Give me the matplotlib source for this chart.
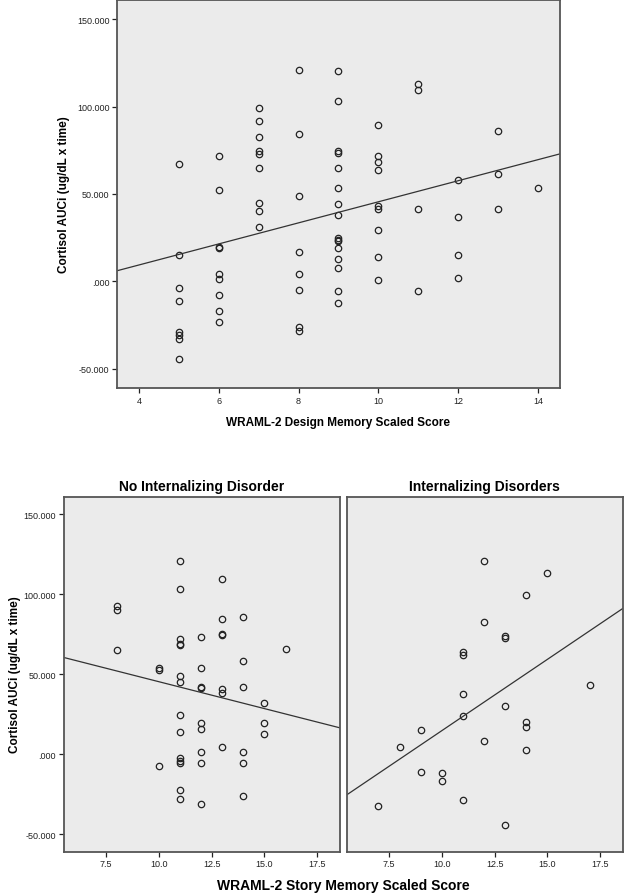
import matplotlib
matplotlib.use("Agg")
import matplotlib.pyplot as plt
import numpy as np

# top panel: design memory vs cortisol AUCi (all subjects)
design_x = [5, 5, 5, 5, 5, 5, 5, 5,
            6, 6, 6, 6, 6, 6, 6, 6, 6,
            7, 7, 7, 7, 7, 7, 7, 7, 7,
            8, 8, 8, 8, 8, 8, 8, 8,
            9, 9, 9, 9, 9, 9, 9, 9, 9, 9, 9, 9, 9, 9, 9, 9,
            10, 10, 10, 10, 10, 10, 10, 10, 10,
            11, 11, 11, 11,
            12, 12, 12, 12,
            13, 13, 13,
            14]
design_y = [67.4, 15.1, -3.6, -11.4, -28.9, -30.8, -32.7, -44.6,
            72.0, 52.2, 19.6, 19.0, 4.4, 1.4, -7.6, -17.1, -23.0,
            99.4, 92.0, 82.5, 74.5, 73.1, 65.1, 44.6, 40.4, 31.4,
            121.1, 84.2, 49.0, 17.0, 4.0, -5.1, -25.9, -28.2,
            120.6, 103.3, 74.5, 73.5, 64.8, 53.5, 44.4, 38.1, 24.8, 23.8, 23.3, 19.1, 12.6, 7.6, -5.5, -12.4,
            89.5, 71.8, 68.4, 63.8, 42.9, 41.2, 29.4, 13.7, 1.0,
            112.8, 109.5, 41.7, -5.5,
            57.9, 37.1, 15.3, 1.9,
            85.9, 61.5, 41.4,
            53.4]

# bottom panels: story memory vs cortisol AUCi, split by group
no_int_x = [8, 8, 8,
            10, 10, 10,
            11, 11, 11, 11, 11, 11, 11, 11, 11, 11, 11, 11, 11, 11,
            12, 12, 12, 12, 12, 12, 12, 12, 12,
            13, 13, 13, 13, 13, 13, 13,
            14, 14, 14, 14, 14, 14,
            15, 15, 15,
            16]
no_int_y = [92.3, 90.2, 65.0,
            54.0, 52.3, -7.3,
            121.0, 103.3, 71.9, 69.1, 67.9, 49.1, 44.8, 24.6, 14.1, -2.7, -4.0, -5.4, -22.7, -27.9,
            73.1, 53.7, 41.9, 41.2, 19.6, 15.4, 1.6, -5.4, -31.1,
            109.6, 84.4, 74.8, 74.4, 41.0, 38.5, 4.6,
            86.0, 58.1, 41.9, 1.2, -5.4, -26.1,
            31.9, 19.6, 12.7,
            65.4]

int_x = [7, 8, 9, 9, 10, 10,
         11, 11, 11, 11, 11,
         12, 12, 12,
         13, 13, 13, 13,
         14, 14, 14, 14,
         15, 17]
int_y = [-32.3, 4.4, 15.2, -11.1, -11.9, -16.9,
         63.9, 62.0, 37.3, 23.8, -28.5,
         120.6, 82.5, 8.1,
         73.7, 72.5, 29.8, -44.0,
         99.6, 19.8, 17.1, 2.5,
         112.9, 42.9]

titles = ["No Internalizing Disorder", "Internalizing Disorders"]
ylabel = "Cortisol AUCi (ug/dL x time)"
y_ticks = [-50, 0, 50, 100, 150]

BG = "#ebebeb"
FRAME = "#555555"
WIDE = ["Liberation Sans", "DejaVu Sans"]


def yfmt(v, pos=None):
    s = "%.3f" % v
    if s.startswith("0."):
        s = s[1:]
    return s


def style_axes(ax, show_y=True):
    ax.set_facecolor(BG)
    for sp in ax.spines.values():
        sp.set_color(FRAME)
        sp.set_linewidth(1.3)
    ax.tick_params(direction="out", length=3.5, width=0.9, color="#222222",
                   labelsize=6.5, labelcolor="#222222", pad=2)
    ax.set_ylim(-61, 161)
    ax.set_yticks(y_ticks)
    ax.yaxis.set_major_formatter(plt.FuncFormatter(yfmt))
    if not show_y:
        ax.tick_params(axis="y", left=False, labelleft=False)
    for lab in ax.get_xticklabels() + ax.get_yticklabels():
        lab.set_family(WIDE)


def scatter_fit(ax, x, y):
    x = np.array(x, dtype=float)
    y = np.array(y, dtype=float)
    ax.plot(x, y, "o", ms=4.6, mfc="none", mec="#222222", mew=0.9)
    k, b = np.polyfit(x, y, 1)
    lo, hi = ax.get_xlim()
    xs = np.array([lo, hi])
    ax.plot(xs, k * xs + b, color="#333333", lw=0.9)
    ax.set_xlim(lo, hi)


W, H = 624, 895
fig = plt.figure(figsize=(W / 100, H / 100), dpi=100)

# top panel
ax = fig.add_axes([117 / W, 1 - 389 / H, (560 - 117) / W, 388 / H])
ax.set_xlim(3.45, 14.55)
ax.set_xticks([4, 6, 8, 10, 12, 14])
style_axes(ax)
scatter_fit(ax, design_x, design_y)
ax.set_xlabel("WRAML-2 Design Memory Scaled Score", fontsize=8.5,
              fontweight="bold", family=WIDE, labelpad=8)
ax.set_ylabel(ylabel, fontsize=8.5, fontweight="bold", family=WIDE, labelpad=5)

# bottom panels
bot = 1 - 852.7 / H
hgt = (852.7 - 497.5) / H
ax1 = fig.add_axes([63.7 / W, bot, (339.5 - 63.7) / W, hgt])
ax2 = fig.add_axes([346.7 / W, bot, (622.5 - 346.7) / W, hgt])
for a, xs, ys, t, show in [(ax1, no_int_x, no_int_y, titles[0], True),
                           (ax2, int_x, int_y, titles[1], False)]:
    a.set_xlim(5.5, 18.55)
    a.set_xticks([7.5, 10.0, 12.5, 15.0, 17.5])
    a.xaxis.set_major_formatter(plt.FuncFormatter(lambda v, p: "%.1f" % v))
    style_axes(a, show)
    scatter_fit(a, xs, ys)
    a.set_title(t, fontsize=10, fontweight="bold", family=WIDE, pad=5)

ax1.set_ylabel(ylabel, fontsize=8.5, fontweight="bold", family=WIDE, labelpad=2)
fig.text(343 / W, 1 - 886 / H, "WRAML-2 Story Memory Scaled Score", fontsize=10,
         fontweight="bold", family=WIDE, ha="center", va="center")

fig.savefig("out.png", dpi=100)
